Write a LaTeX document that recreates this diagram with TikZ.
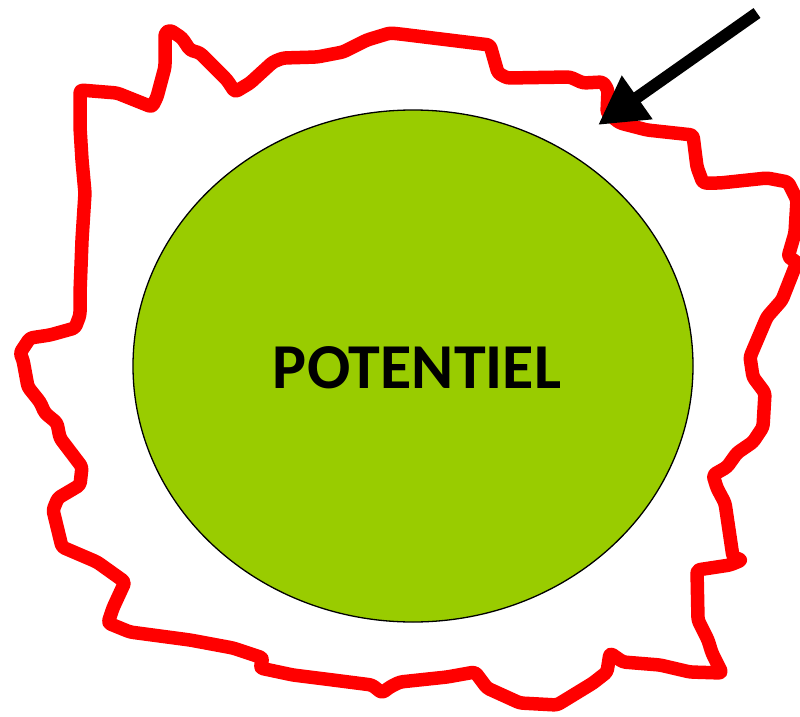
\documentclass[tikz,border=0pt]{standalone}
\usepackage{fontspec}
\setmainfont{Carlito}
\usetikzlibrary{arrows.meta}
\definecolor{potgreen}{HTML}{99CC00}
\definecolor{redline}{HTML}{FF0000}
\tikzset{
  boundary/.style={draw=redline,line width=13.5pt,line join=round,line cap=round,rounded corners=3pt},
  core/.style={ellipse,draw=black,line width=1.3pt,fill=potgreen,minimum width=560pt,minimum height=512pt,inner sep=0pt},
  pointer/.style={draw=black,line width=12pt,-{Triangle[length=48pt,width=50pt]}}
}
\usetikzlibrary{shapes.geometric}
\begin{document}
\begin{tikzpicture}[x=1pt,y=-1pt]
\useasboundingbox (0,0) rectangle (800,717);
\draw[boundary] (20,353) -- (30,338) -- (50,335) -- (75,328) -- (80,315) -- (80,293) -- (82,240) -- (85,193) -- (82,160) -- (80,127) -- (80,90) -- (117,93) -- (152,107) -- (157,97) -- (165,67) -- (165,33) -- (170,30) -- (182,38) -- (190,50) -- (200,53) -- (227,80) -- (235,92) -- (250,83) -- (273,62) -- (283,58) -- (317,57) -- (343,52) -- (367,40) -- (390,33) -- (400,34) -- (490,45) -- (498,73) -- (507,78) -- (570,77) -- (583,83) -- (603,82) -- (608,90) -- (607,113) -- (620,123) -- (647,130) -- (693,135) -- (697,167) -- (703,183) -- (720,183) -- (767,178) -- (788,182) -- (797,200) -- (795,233) -- (788,257) -- (797,262) -- (782,300) -- (767,317) -- (750,357) -- (753,377) -- (765,393) -- (763,427) -- (753,442) -- (737,453) -- (727,467) -- (713,475) -- (717,488) -- (725,503) -- (733,557) -- (742,560) -- (730,565) -- (697,570) -- (698,620) -- (708,640) -- (712,653) -- (722,673) -- (690,672) -- (660,665) -- (623,662) -- (610,653) -- (607,672) -- (593,683) -- (557,705) -- (520,703) -- (487,688) -- (475,672) -- (447,677) -- (400,682) -- (390,687) -- (382,693) -- (372,685) -- (333,680) -- (293,675) -- (260,668) -- (263,658) -- (233,648) -- (190,640) -- (130,632) -- (108,623) -- (113,608) -- (125,582) -- (97,562) -- (62,547) -- (53,510) -- (58,498) -- (80,485) -- (82,467) -- (60,438) -- (57,423) -- (45,413) -- (40,402) -- (28,387) -- (23,360) -- cycle;
\node[core] (pot) at (413,366) {};
\node[font=\fontsize{64}{64}\selectfont\bfseries] (lbl) at (417,368) {POTENTIEL};
\coordinate (tail) at (757,13);
\coordinate (tip) at (598,125);
\draw[pointer] (tail) -- (tip);
\end{tikzpicture}
\end{document}
